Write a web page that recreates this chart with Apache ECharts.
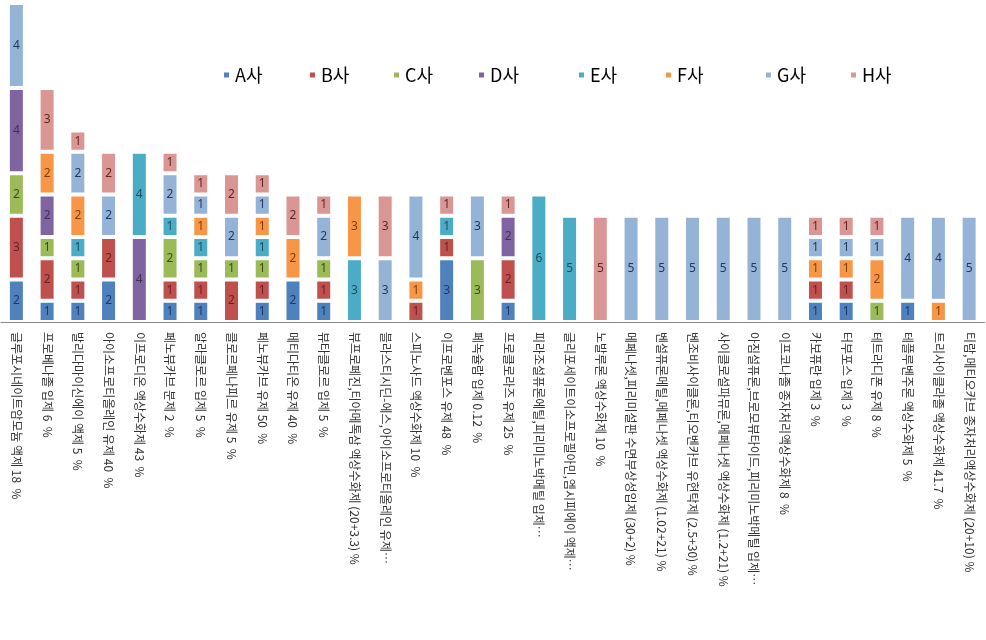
<!DOCTYPE html>
<html>
<head>
<meta charset="utf-8">
<script src="https://cdn.jsdelivr.net/npm/echarts@6/dist/echarts.min.js"></script>
<style>html,body{margin:0;padding:0;background:#fff;}#c{width:986px;height:640px;}</style>
</head>
<body>
<div id="c"></div>
<script>
const categories = [
  '글루포시네이트암모늄 액제 18  %',
  '프로베나졸 입제 6  %',
  '발리다마이신에이 액제 5  %',
  '아이소프로티올레인 유제 40  %',
  '이프로디온 액상수화제 43  %',
  '페노뷰카브 분제 2  %',
  '알라클로르 입제 5  %',
  '클로르페나피르 유제 5  %',
  '페노뷰카브 유제 50  %',
  '메티다티온 유제 40  %',
  '뷰타클로르 입제 5  %',
  '뷰프로페진,티아메톡삼 액상수화제 (20+3.3) %',
  '블라스티시딘-에스,아이소프로티올레인 유제…',
  '스피노사드 액상수화제 10  %',
  '이프로벤포스 유제 48  %',
  '페녹슐람 입제 0.12  %',
  '프로클로라즈 유제 25  %',
  '피라조설퓨론에틸,피리미노박메틸 입제…',
  '글리포세이트이소프로필아민,엠시피에이 액제…',
  '노발루론 액상수화제 10  %',
  '메페나셋,피리미설판 수면부상성입제 (30+2) %',
  '벤설퓨론메틸,메페나셋 액상수화제 (1.02+21) %',
  '벤조비사이클론,티오벤카브 유현탁제 (2.5+30) %',
  '사이클로설파뮤론,메페나셋 액상수화제 (1.2+21) %',
  '아짐설퓨론,브로모뷰타이드,피리미노박메틸 입제…',
  '이프코나졸 종자처리액상수화제 8  %',
  '카보퓨란 입제 3  %',
  '터부포스 입제 3  %',
  '테트라디폰 유제 8  %',
  '테플루벤주론 액상수화제 5  %',
  '트리사이클라졸 액상수화제 41.7  %',
  '티람,메티오카브 종자처리액상수화제 (20+10) %'
];
const seriesNames = ['A사','B사','C사','D사','E사','F사','G사','H사'];
const valuesA = [2,1,1,2,0,1,1,0,1,2,1,0,0,0,3,0,1,0,0,0,0,0,0,0,0,0,1,1,0,1,0,0];
const valuesB = [3,2,1,2,0,1,1,2,1,0,1,0,0,1,1,0,2,0,0,0,0,0,0,0,0,0,1,1,0,0,0,0];
const valuesC = [2,1,1,0,0,2,1,1,1,0,1,0,0,0,0,3,0,0,0,0,0,0,0,0,0,0,0,0,1,0,0,0];
const valuesD = [4,2,0,0,4,0,0,0,0,0,0,0,0,0,0,0,2,0,0,0,0,0,0,0,0,0,0,0,0,0,0,0];
const valuesE = [0,0,1,0,4,1,1,0,1,0,0,3,0,0,1,0,0,6,5,0,0,0,0,0,0,0,0,0,0,0,0,0];
const valuesF = [0,2,2,0,0,0,1,0,1,2,0,3,0,1,0,0,0,0,0,0,0,0,0,0,0,0,1,1,2,0,1,0];
const valuesG = [4,0,2,2,0,2,1,2,1,0,2,0,3,4,0,3,0,0,0,0,5,5,5,5,5,5,1,1,1,4,4,5];
const valuesH = [0,3,1,2,0,1,1,2,1,2,1,0,3,0,1,0,1,0,0,5,0,0,0,0,0,0,1,1,1,0,0,0];
const allValues = [valuesA,valuesB,valuesC,valuesD,valuesE,valuesF,valuesG,valuesH];

const colors = ['#4F81BD','#C0504D','#9BBB59','#8064A2','#4BACC6','#F79646','#95B3D7','#DA9694'];
const labelColors = ['#1F3864','#632523','#3B4A1E','#3F3151','#1F4E5E','#7F3F0A','#1F3864','#632523'];
const legendLefts = [217,303,387,472,572,659,759,844];

const chart = echarts.init(document.getElementById('c'), null, {renderer:'canvas'});
const option = {
  animation: false,
  backgroundColor: '#fff',
  grid: {left: 1, right: 1.5, top: 3, bottom: 318, containLabel: false},
  legend: seriesNames.map((n,i)=>({
    data: [n], left: legendLefts[i], top: 61, itemWidth: 7, itemHeight: 7, icon: 'rect',
    textStyle: {fontSize: 18, color: '#000', fontFamily: 'Noto Sans CJK KR'}
  })),
  xAxis: {
    type: 'category', data: categories,
    axisLine: {lineStyle: {color: '#888', width: 1}},
    axisTick: {show: false},
    axisLabel: {rotate: -90, interval: 0, margin: 10, fontSize: 12, color: '#333', fontFamily: 'Noto Sans CJK KR'}
  },
  yAxis: {type: 'value', min: 0, max: 15, show: false, splitLine: {show: false}},
  series: seriesNames.map((n,i)=>({
    name: n, type: 'bar', stack: 'total', barWidth: 17,
    data: allValues[i].map(v => v === 0 ? null : v),
    itemStyle: {color: colors[i], borderColor: '#fff', borderWidth: 2},
    label: {show: true, position: 'inside', fontSize: 12, color: labelColors[i], fontFamily: 'Noto Sans, sans-serif'}
  }))
};
chart.setOption(option);
</script>
</body>
</html>
